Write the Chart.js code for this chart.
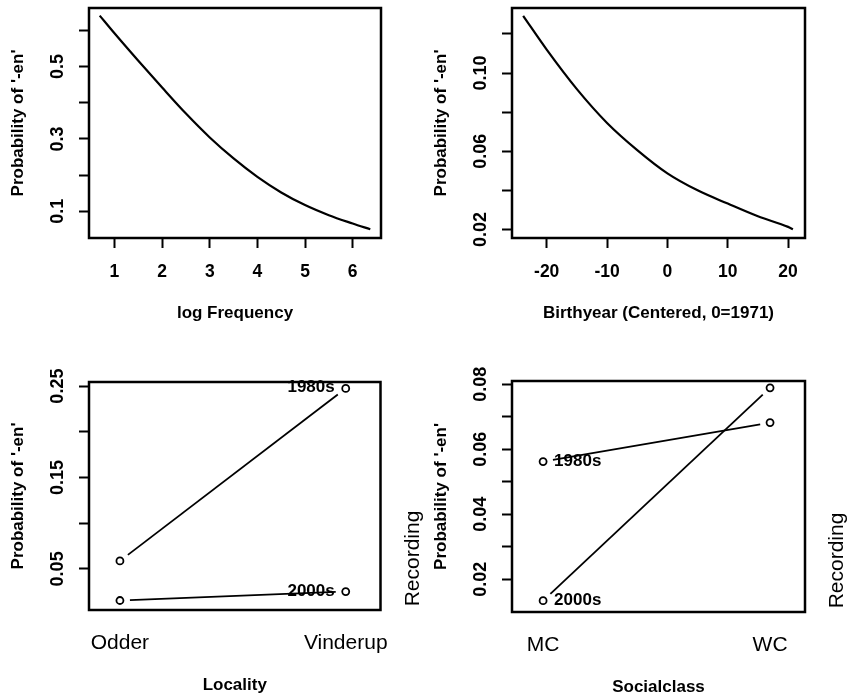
<!DOCTYPE html>
<html>
<head>
<meta charset="utf-8">
<script src="https://cdn.jsdelivr.net/npm/chart.js@4.4.1/dist/chart.umd.min.js"></script>
<style>
  html, body { margin: 0; padding: 0; background: #fff; }
  body { width: 849px; height: 696px; position: relative; overflow: hidden; }
  .panel { position: absolute; }
  .panel canvas { display: block; }
</style>
</head>
<body>
<div class="panel" style="left:0;top:0;width:425px;height:348px"><canvas id="freqChart"></canvas></div>
<div class="panel" style="left:425px;top:0;width:424px;height:348px"><canvas id="yearChart"></canvas></div>
<div class="panel" style="left:0;top:348px;width:425px;height:348px"><canvas id="localityChart"></canvas></div>
<div class="panel" style="left:425px;top:348px;width:424px;height:348px"><canvas id="classChart"></canvas></div>
<script>
// effect of log frequency
const logFreq = [0.69, 1, 1.5, 2, 2.5, 3, 3.5, 4, 4.5, 5, 5.5, 6, 6.37];
const probByFreq = [0.641, 0.592, 0.516, 0.442, 0.370, 0.304, 0.246, 0.195, 0.152, 0.117, 0.089, 0.066, 0.050];
const freqTicksX = [1, 2, 3, 4, 5, 6];
const freqTicksY = [0.1, 0.2, 0.3, 0.4, 0.5, 0.6];
const freqLabelsY = ['0.1', '', '0.3', '', '0.5', ''];

// effect of birthyear
const birthYear = [-23.9, -20, -15, -10, -5, 0, 5, 10, 15, 20, 20.8];
const probByYear = [0.1293, 0.1120, 0.0918, 0.0745, 0.0606, 0.0487, 0.0400, 0.0332, 0.0267, 0.0213, 0.0201];
const yearTicksX = [-20, -10, 0, 10, 20];
const yearTicksY = [0.02, 0.04, 0.06, 0.08, 0.10, 0.12];
const yearLabelsY = ['0.02', '', '0.06', '', '0.10', ''];

// locality x recording
const recordings = ['1980s', '2000s'];
const localities = ['Odder', 'Vinderup'];
const locality1980s = [0.0587, 0.2475];
const locality2000s = [0.0154, 0.0252];
const localityTicksY = [0.05, 0.10, 0.15, 0.20, 0.25];
const localityLabelsY = ['0.05', '', '0.15', '', '0.25'];

// socialclass x recording
const classes = ['MC', 'WC'];
const class1980s = [0.0562, 0.0682];
const class2000s = [0.0134, 0.0789];
const classTicksY = [0.02, 0.03, 0.04, 0.05, 0.06, 0.07, 0.08];
const classLabelsY = ['0.02', '', '0.04', '', '0.06', '', '0.08'];

const FONT = '"Liberation Sans", Arial, sans-serif';
const BOLD = 'bold 17px ' + FONT;
const TICK_X = 'bold 17.5px ' + FONT;
const TICK_Y = 'bold 18px ' + FONT;
const BIG = '21px ' + FONT;

Chart.defaults.animation = false;
Chart.defaults.events = [];
Chart.defaults.plugins.legend.display = false;
Chart.defaults.plugins.tooltip.enabled = false;

function drawText(ctx, text, x, y, font, align, rotate) {
    ctx.save();
    ctx.translate(x, y);
    if (rotate) ctx.rotate(-Math.PI / 2);
    ctx.font = font;
    ctx.textAlign = align || 'center';
    ctx.textBaseline = 'alphabetic';
    ctx.fillStyle = '#000';
    ctx.fillText(text, 0, 0);
    ctx.restore();
}

// R look: box, rotated y labels, titles, type="b" lines, curve labels
const rStyle = {
    id: 'rStyle',
    afterDatasetsDraw(chart, args, o) {
        const ctx = chart.ctx;
        const area = chart.chartArea;
        const xs = chart.scales.x, ys = chart.scales.y;
        const midY = (area.top + area.bottom) / 2;

        chart.data.datasets.forEach((ds, i) => {
            if (!ds.gapLine) return;
            const pts = chart.getDatasetMeta(i).data;
            ctx.save();
            ctx.strokeStyle = '#000';
            ctx.lineWidth = 1.8;
            for (let k = 1; k < pts.length; k++) {
                const a = pts[k - 1], b = pts[k];
                const len = Math.hypot(b.x - a.x, b.y - a.y);
                const ux = (b.x - a.x) / len, uy = (b.y - a.y) / len;
                ctx.beginPath();
                ctx.moveTo(a.x + ux * 10, a.y + uy * 10);
                ctx.lineTo(b.x - ux * 10, b.y - uy * 10);
                ctx.stroke();
            }
            ctx.restore();
        });

        (o.curveLabels || []).forEach(l => {
            const p = chart.getDatasetMeta(l.dataset).data[l.index];
            if (l.side === 'left') drawText(ctx, l.text, p.x - 11, p.y + 4, BOLD, 'right');
            else drawText(ctx, l.text, p.x + 11, p.y + 4, BOLD, 'left');
        });

        ctx.save();
        ctx.strokeStyle = '#000';
        ctx.lineWidth = 2.5;
        ctx.strokeRect(area.left, area.top, area.right - area.left, area.bottom - area.top);
        ctx.restore();

        o.yTicks.forEach((v, i) => {
            if (o.yLabels[i]) drawText(ctx, o.yLabels[i], area.left - 26, ys.getPixelForValue(v), TICK_Y, 'center', true);
        });
        o.xTicks.forEach((v, i) => {
            drawText(ctx, o.xLabels[i], xs.getPixelForValue(v), area.bottom + 39, o.xFont || TICK_X, 'center');
        });
        drawText(ctx, o.xTitle, (area.left + area.right) / 2, area.bottom + 80, BOLD, 'center');
        drawText(ctx, o.yTitle, area.left - 66, midY, BOLD, 'center', true);
        if (o.sideTitle) drawText(ctx, o.sideTitle, area.right + 38, area.bottom - 51.5, BIG, 'center', true);
    }
};

function yAxis(min, max, ticks) {
    return {
        type: 'linear', min: min, max: max,
        afterBuildTicks: s => { s.ticks = ticks.map(v => ({ value: v })); },
        afterFit: s => { s.width = 0; },
        ticks: { display: false },
        border: { display: false },
        grid: { drawOnChartArea: false, tickLength: 10, tickWidth: 2, tickColor: '#000' }
    };
}

function xAxis(min, max, ticks, showTicks) {
    return {
        type: 'linear', min: min, max: max,
        afterBuildTicks: s => { s.ticks = ticks.map(v => ({ value: v })); },
        afterFit: s => { s.height = 0; },
        ticks: { display: false },
        border: { display: false },
        grid: { display: showTicks, drawOnChartArea: false, tickLength: 10, tickWidth: 2, tickColor: '#000' }
    };
}

function curve(xs, ys) {
    return {
        data: xs.map((x, i) => ({ x: x, y: ys[i] })),
        borderColor: '#000', borderWidth: 2.2, pointRadius: 0,
        cubicInterpolationMode: 'monotone'
    };
}

function points(values) {
    return {
        data: values.map((v, i) => ({ x: i + 1, y: v })),
        showLine: false, gapLine: true,
        pointRadius: 3.5, pointBorderWidth: 1.8,
        pointBorderColor: '#000', pointBackgroundColor: '#fff'
    };
}

new Chart(document.getElementById('freqChart'), {
    type: 'line',
    data: { datasets: [curve(logFreq, probByFreq)] },
    options: {
        responsive: true, maintainAspectRatio: false,
        layout: { autoPadding: false, padding: { left: 89, top: 8, right: 44, bottom: 110 } },
        scales: { x: xAxis(0.465, 6.595, freqTicksX, true), y: yAxis(0.026, 0.662, freqTicksY) },
        plugins: { rStyle: {
            xTicks: freqTicksX, xLabels: freqTicksX.map(String),
            yTicks: freqTicksY, yLabels: freqLabelsY,
            xTitle: 'log Frequency', yTitle: "Probability of '-en'"
        } }
    },
    plugins: [rStyle]
});

new Chart(document.getElementById('yearChart'), {
    type: 'line',
    data: { datasets: [curve(birthYear, probByYear)] },
    options: {
        responsive: true, maintainAspectRatio: false,
        layout: { autoPadding: false, padding: { left: 87, top: 8, right: 44, bottom: 110 } },
        scales: { x: xAxis(-25.75, 22.8, yearTicksX, true), y: yAxis(0.0156, 0.1333, yearTicksY) },
        plugins: { rStyle: {
            xTicks: yearTicksX, xLabels: yearTicksX.map(String),
            yTicks: yearTicksY, yLabels: yearLabelsY,
            xTitle: 'Birthyear (Centered, 0=1971)', yTitle: "Probability of '-en'"
        } }
    },
    plugins: [rStyle]
});

new Chart(document.getElementById('localityChart'), {
    type: 'line',
    data: { datasets: [points(locality1980s), points(locality2000s)] },
    options: {
        responsive: true, maintainAspectRatio: false,
        layout: { autoPadding: false, padding: { left: 89, top: 34, right: 44.5, bottom: 86 } },
        scales: { x: xAxis(0.863, 2.154, [1, 2], false), y: yAxis(0.005, 0.2545, localityTicksY) },
        plugins: { rStyle: {
            xTicks: [1, 2], xLabels: localities, xFont: BIG,
            yTicks: localityTicksY, yLabels: localityLabelsY,
            xTitle: 'Locality', yTitle: "Probability of '-en'", sideTitle: 'Recording',
            curveLabels: [
                { dataset: 0, index: 1, text: recordings[0], side: 'left' },
                { dataset: 1, index: 1, text: recordings[1], side: 'left' }
            ]
        } }
    },
    plugins: [rStyle]
});

new Chart(document.getElementById('classChart'), {
    type: 'line',
    data: { datasets: [points(class1980s), points(class2000s)] },
    options: {
        responsive: true, maintainAspectRatio: false,
        layout: { autoPadding: false, padding: { left: 87, top: 33, right: 44, bottom: 84 } },
        scales: { x: xAxis(0.863, 2.154, [1, 2], false), y: yAxis(0.0099, 0.081, classTicksY) },
        plugins: { rStyle: {
            xTicks: [1, 2], xLabels: classes, xFont: BIG,
            yTicks: classTicksY, yLabels: classLabelsY,
            xTitle: 'Socialclass', yTitle: "Probability of '-en'", sideTitle: 'Recording',
            curveLabels: [
                { dataset: 0, index: 0, text: recordings[0], side: 'right' },
                { dataset: 1, index: 0, text: recordings[1], side: 'right' }
            ]
        } }
    },
    plugins: [rStyle]
});
</script>
</body>
</html>
